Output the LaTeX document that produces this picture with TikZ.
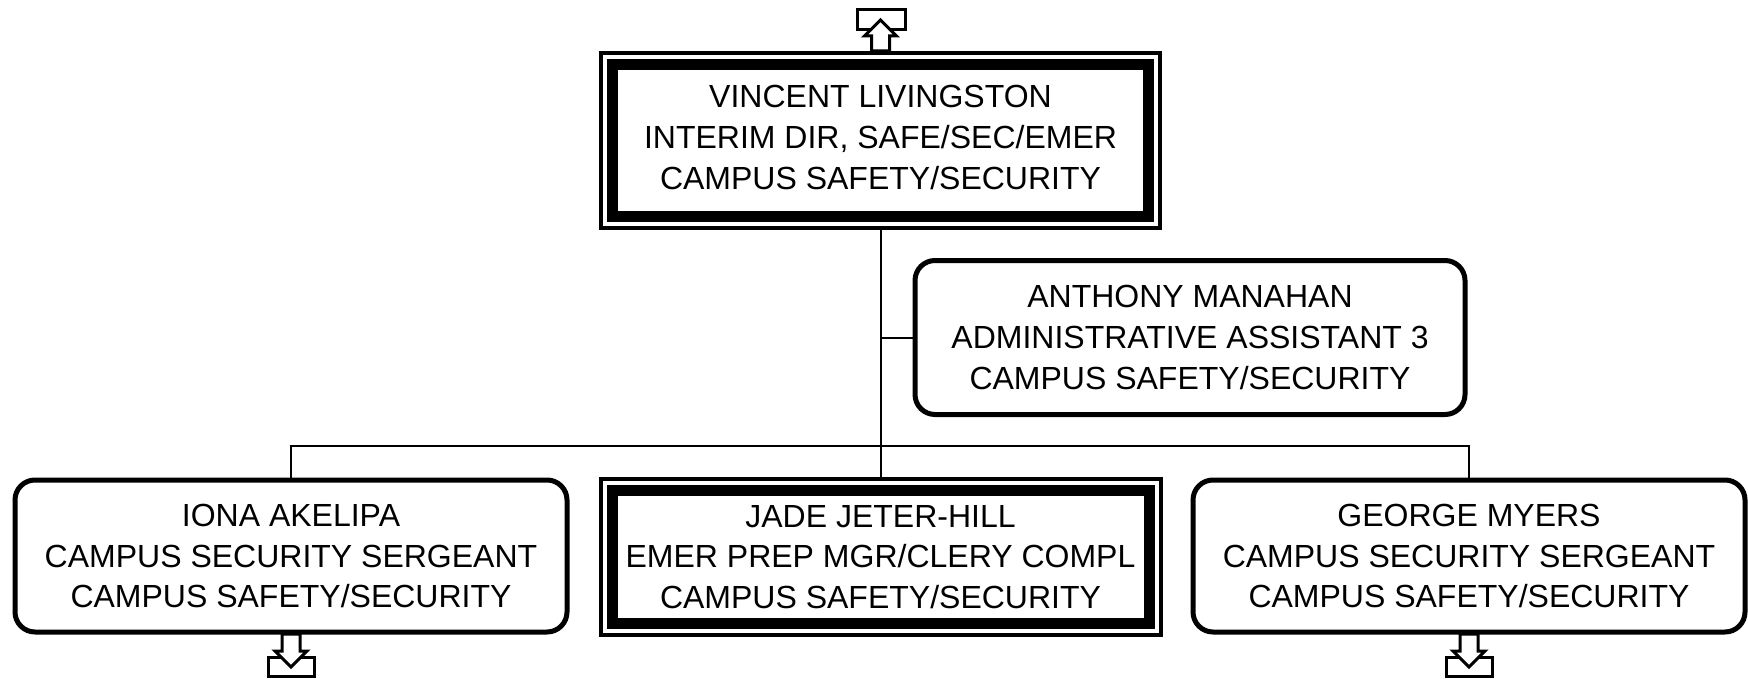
\documentclass[tikz,border=0pt]{standalone}
\usepackage{fontspec}
\setmainfont{Liberation Sans}
\usetikzlibrary{calc,backgrounds}
\tikzset{
  txt/.style={align=center,font=\fontsize{32}{40.7}\selectfont,inner sep=0pt},
  rbox/.style={txt,draw,line width=5pt,rounded corners=20pt,fill=white,minimum width=552pt,minimum height=152pt},
  dbox/.style={txt,draw,line width=11pt,fill=white},
  outerbox/.style={draw,line width=4pt,fill=white},
  conn/.style={line width=2pt},
  offpage/.style={draw,line width=3pt,fill=white,line join=miter},
}
\begin{document}
\begin{tikzpicture}[x=1pt,y=-1pt]
\useasboundingbox (0,0) rectangle (1748,679);
% boxes
\node[dbox,minimum width=536pt,minimum height=152pt] (vl) at (880.5,140.5)
  {\raisebox{5.5pt}{\begin{tabular}{@{}c@{}}VINCENT LIVINGSTON\\INTERIM DIR, SAFE/SEC/EMER\\CAMPUS SAFETY/SECURITY\end{tabular}}};
\node[rbox,minimum width=550pt,minimum height=154pt] (am) at (1190,337.5)
  {ANTHONY MANAHAN\\ADMINISTRATIVE ASSISTANT 3\\CAMPUS SAFETY/SECURITY};
\node[rbox] (ia) at (291,556)
  {IONA AKELIPA\\CAMPUS SECURITY SERGEANT\\CAMPUS SAFETY/SECURITY};
\node[dbox,minimum width=537pt,minimum height=133pt] (jj) at (880.5,557)
  {JADE JETER-HILL\\EMER PREP MGR/CLERY COMPL\\CAMPUS SAFETY/SECURITY};
\node[rbox] (gm) at (1469,556)
  {GEORGE MYERS\\CAMPUS SECURITY SERGEANT\\CAMPUS SAFETY/SECURITY};
\coordinate (bus) at (880.5,446);
\begin{scope}[on background layer]
  \draw[conn] (vl.south) -- (bus);
  \draw[conn] (am.west) -- (am.west -| vl.south);
  \draw[conn] (ia.north) |- (bus) -| (gm.north);
  \draw[conn] (bus) -- (jj.north);
  \draw[outerbox] ($(vl.north west)+(-6,-6)$) rectangle ($(vl.south east)+(6,6)$);
  \draw[outerbox] ($(jj.north west)+(-6,-6)$) rectangle ($(jj.south east)+(6,6)$);
\end{scope}
% off-page markers
\draw[line width=3pt] (857,10) rectangle (905,30);
\draw[offpage] (880.5,20) -- (896.5,36) -- (889.5,36) -- (889.5,51) -- (871.5,51) -- (871.5,36) -- (864.5,36) -- cycle;
\draw[line width=3pt] (268,657) rectangle (314,676);
\draw[offpage] (282,634) -- (300,634) -- (300,651) -- (307,651) -- (291,667) -- (275,651) -- (282,651) -- cycle;
\draw[line width=3pt] (1446,657) rectangle (1492,676);
\draw[offpage] (1460,634) -- (1478,634) -- (1478,651) -- (1485,651) -- (1469,667) -- (1453,651) -- (1460,651) -- cycle;
\end{tikzpicture}
\end{document}
